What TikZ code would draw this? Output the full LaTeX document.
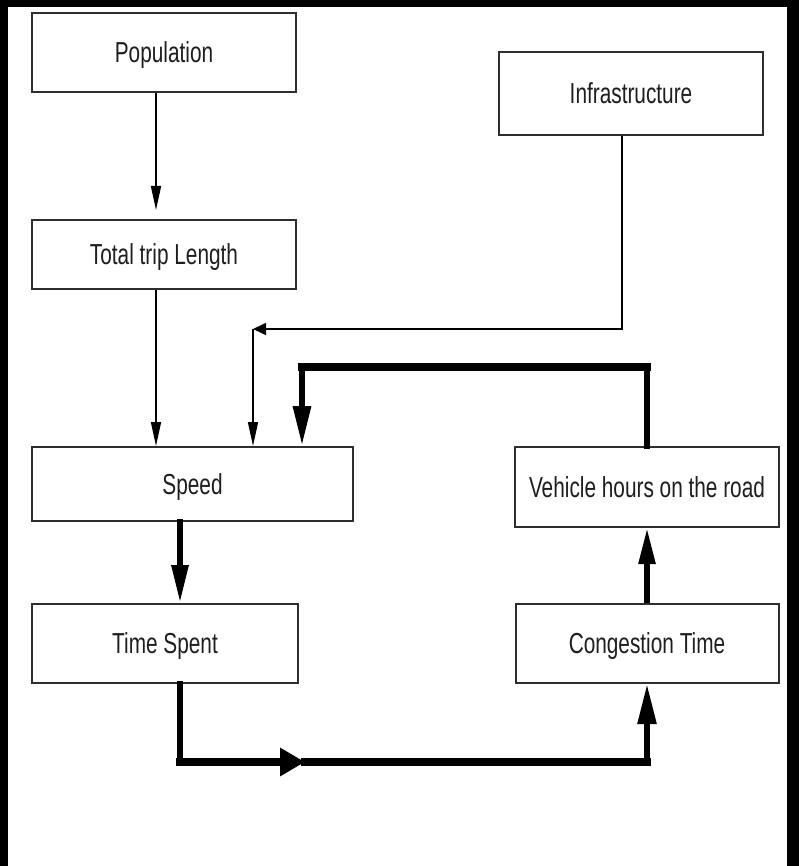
\documentclass[tikz,border=0pt]{standalone}
\usepackage{fontspec}
\setmainfont{Liberation Sans}[FakeStretch=0.72]
\usetikzlibrary{arrows.meta}
\definecolor{boxgray}{HTML}{2E2E2E}
\definecolor{txtgray}{HTML}{1E1E1E}
\begin{document}
\begin{tikzpicture}[x=1pt,y=-1pt,
  box/.style={draw=boxgray, line width=2pt, fill=white, inner sep=0pt,
    text height=20.7pt, text depth=0pt, text=txtgray,
    font=\fontsize{28.9}{34}\selectfont},
  thinline/.style={line width=1.6pt, black},
  thickv/.style={line width=6pt, black, line cap=rect},
  thickh/.style={line width=8.5pt, black, line cap=rect},
  thintip/.style={-{Triangle[length=24pt,width=10pt]}},
  thintipshort/.style={-{Triangle[length=13pt,width=12pt]}},
]
% background and frame
\fill[white] (0,0) rectangle (799,866);
\fill[black] (0,0) rectangle (8,866);
\fill[black] (0,0) rectangle (799,7);
\fill[black] (787,0) rectangle (799,866);

% boxes
\node[box, minimum width=264pt, minimum height=79pt] (pop) at (164,52.5) {Population};
\node[box, minimum width=264pt, minimum height=69pt] (ttl) at (164,254.5) {Total trip Length};
\node[box, minimum width=264pt, minimum height=83pt] (inf) at (631,93.5) {Infrastructure};
\node[box, minimum width=321pt, minimum height=74pt] (spd) at (192.5,484) {Speed};
\node[box, minimum width=264pt, minimum height=80pt] (veh) at (647,487) {Vehicle hours on the road};
\node[box, minimum width=266pt, minimum height=79pt] (ts) at (165,643.5) {Time Spent};
\node[box, minimum width=263pt, minimum height=79pt] (cong) at (647,643.5) {Congestion Time};

% coordinates
\coordinate (ic) at (253,329);
\coordinate (tr) at (647,367);
\coordinate (tl) at (302,367);
\coordinate (bl) at (180,762);
\coordinate (bm) at (305,762);
\coordinate (br) at (647,762);

% thin connectors
\draw[thinline, thintip] ([xshift=-8pt]pop.south) -- ([xshift=-8pt,yshift=9pt]ttl.north);
\draw[thinline, thintip] ([xshift=-8pt]ttl.south) -- ([xshift=-8pt]ttl.south |- spd.north);
\draw[thinline, thintipshort] ([xshift=-9pt]inf.south) |- (ic);
\draw[thinline, thintip] (ic) -- (ic |- spd.north);

% thick loop
\draw[thickv] (veh.north) -- (tr);
\draw[thickh] (tr) -- (tl);
\draw[thickv, -{Triangle[length=40pt,width=17pt]}] (tl) -- (tl |- spd.north);
\draw[thickv, -{Triangle[length=38pt,width=16pt]}] ([xshift=-12.5pt]spd.south) -- ([xshift=-12.5pt]spd.south |- ts.north);
\draw[thickv] ([xshift=15pt]ts.south) -- (bl);
\draw[thickh, -{Triangle[length=25pt,width=27pt]}] (bl) -- (bm);
\draw[thickh] (bm) -- (br);
\draw[line width=5.5pt, black, -{Triangle[length=40pt,width=18pt]}] (br) -- (cong.south);
\draw[line width=5.5pt, black, -{Triangle[length=36pt,width=16pt]}] (cong.north) -- (veh.south);
\end{tikzpicture}
\end{document}
